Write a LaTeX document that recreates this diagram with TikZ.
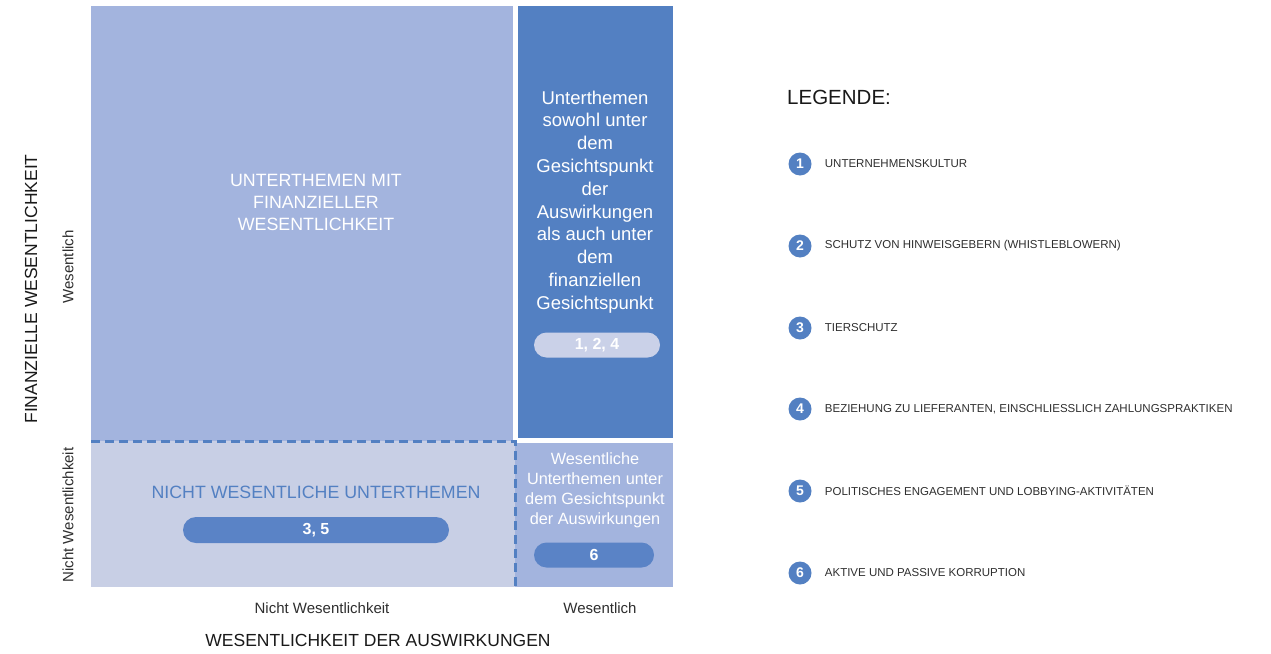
\documentclass[tikz,border=0pt]{standalone}
\usepackage{fontspec}
\setmainfont{Liberation Sans}
\usetikzlibrary{positioning}

\definecolor{lightblue}{HTML}{A3B4DE}
\definecolor{darkblue}{HTML}{5380C2}
\definecolor{paleblue}{HTML}{C8CFE5}
\definecolor{pillgray}{HTML}{CAD1E8}
\definecolor{pillblue}{HTML}{5A83C6}
\definecolor{inkgray}{HTML}{2E2E2E}

\tikzset{
  pill/.style={rectangle, rounded corners=12.5pt, minimum height=25pt, inner sep=0pt, text=white, font=\bfseries\fontsize{16}{16}\selectfont},
  capslabel/.style={align=center, font=\fontsize{17.8}{22}\selectfont},
  axislabel/.style={text=inkgray, font=\fontsize{15}{15}\selectfont},
  axistitle/.style={text=black!90, font=\fontsize{17.5}{17.5}\selectfont},
  legnum/.style={circle, fill=darkblue, minimum size=23pt, inner sep=0pt, text=white, font=\bfseries\fontsize{14}{14}\selectfont},
  legtext/.style={right=13pt of #1, inner sep=0pt, text=inkgray, font=\fontsize{11.5}{11.5}\selectfont},
}

\begin{document}
\begin{tikzpicture}[x=1pt, y=-1pt]
    \useasboundingbox (0,0) rectangle (1271,653);

    % quadrants
    \fill[lightblue] (91,6) rectangle (513,441);
    \fill[darkblue] (518,6) rectangle (673,438);
    \fill[paleblue] (91,441) rectangle (515,587);
    \fill[lightblue] (515,443) rectangle (673,587);
    \draw[darkblue, line width=3pt, dash pattern=on 9pt off 5pt] (91,441) -- (515,441) -- (515,587);

    \node[capslabel, text=white] (finbox) at (316,202) {UNTERTHEMEN MIT\\FINANZIELLER\\WESENTLICHKEIT};
    \node[align=center, text=white, font=\fontsize{18.5}{22.8}\selectfont] (bothbox) at (595,202) {Unterthemen\\sowohl unter\\dem\\Gesichtspunkt\\der\\Auswirkungen\\als auch unter\\dem\\finanziellen\\Gesichtspunkt};
    \node[capslabel, text=darkblue] (nonbox) at (316,492) {NICHT WESENTLICHE UNTERTHEMEN};
    \node[align=center, text=white, font=\fontsize{16.3}{20}\selectfont] (impbox) at (595,490) {Wesentliche\\Unterthemen unter\\dem Gesichtspunkt\\der Auswirkungen};

    \node[pill, fill=pillgray, minimum width=126pt] (pill124) at (597,345) {1, 2, 4};
    \node[pill, fill=pillblue, minimum width=266pt, minimum height=26pt, rounded corners=13pt] (pill35) at (316,530) {3, 5};
    \node[pill, fill=pillblue, minimum width=120pt] (pill6) at (594,555) {6};

    % axes
    \node[axislabel] (xlow) at (322,608) {Nicht Wesentlichkeit};
    \node[axislabel] (xhigh) at (600,608) {Wesentlich};
    \node[axistitle] (xtitle) at (378,640) {WESENTLICHKEIT DER AUSWIRKUNGEN};
    \node[axistitle, rotate=90] (ytitle) at (31,289) {FINANZIELLE WESENTLICHKEIT};
    \node[axislabel, rotate=90] (yhigh) at (68,267) {Wesentlich};
    \node[axislabel, rotate=90] (ylow) at (68,515) {Nicht Wesentlichkeit};

    % legend
    \node[anchor=west, inner sep=0pt, text=black!90, font=\fontsize{20.5}{20.5}\selectfont] (legend) at (787,97) {LEGENDE:};

    \node[legnum] (n1) at (800,164) {1};
    \node[legnum] (n2) at (800,246) {2};
    \node[legnum] (n3) at (800,328) {3};
    \node[legnum] (n4) at (800,409) {4};
    \node[legnum] (n5) at (800,491) {5};
    \node[legnum] (n6) at (800,573) {6};

    \node[legtext=n1] (t1) {UNTERNEHMENSKULTUR};
    \node[legtext=n2] (t2) {SCHUTZ VON HINWEISGEBERN (WHISTLEBLOWERN)};
    \node[legtext=n3] (t3) {TIERSCHUTZ};
    \node[legtext=n4] (t4) {BEZIEHUNG ZU LIEFERANTEN, EINSCHLIESSLICH ZAHLUNGSPRAKTIKEN};
    \node[legtext=n5] (t5) {POLITISCHES ENGAGEMENT UND LOBBYING-AKTIVITÄTEN};
    \node[legtext=n6] (t6) {AKTIVE UND PASSIVE KORRUPTION};
\end{tikzpicture}
\end{document}
